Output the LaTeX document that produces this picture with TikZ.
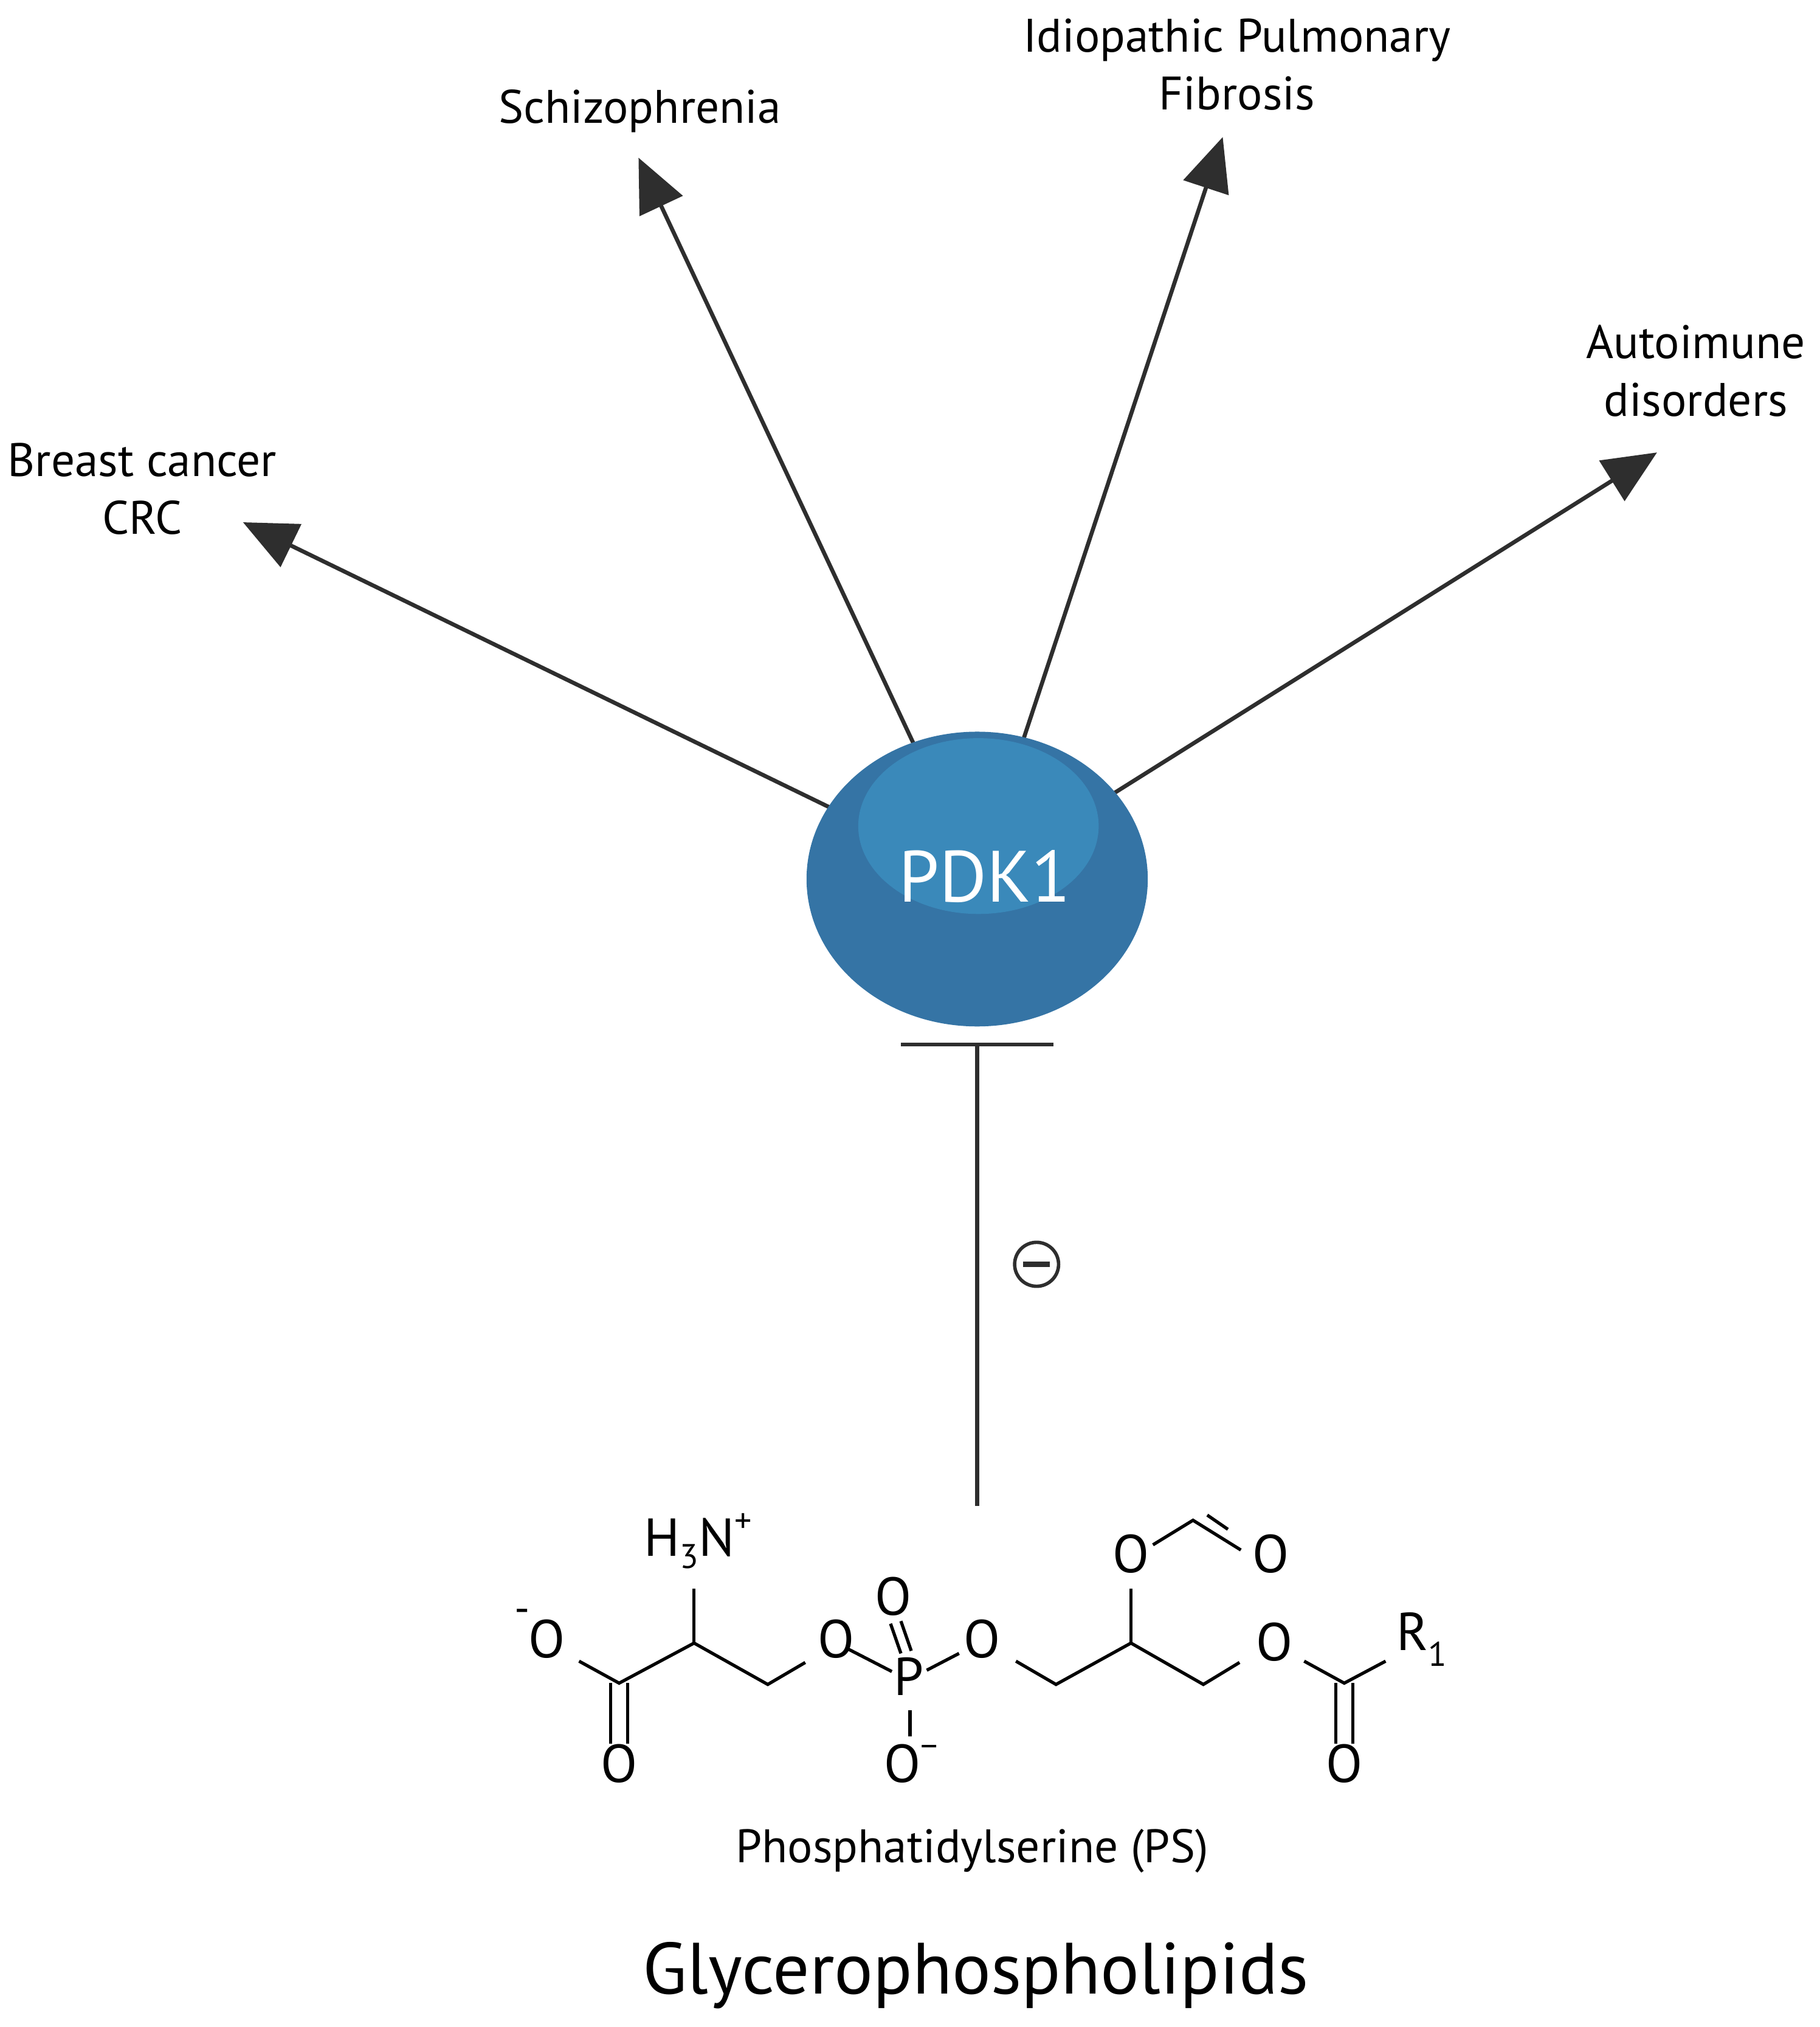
\documentclass[tikz,border=0pt]{standalone}
\usepackage{fontspec}
\setmainfont{PT Sans}
\usetikzlibrary{arrows.meta,shapes.geometric,backgrounds}
\definecolor{outerblue}{HTML}{3574A5}
\definecolor{innerblue}{HTML}{3A89BA}
\definecolor{ln}{HTML}{2E2E2E}
\tikzset{
  conn/.style={draw=ln,line width=1.9pt},
  arr/.style={conn,-{Triangle[length=25pt,width=22pt]}},
  lbl/.style={font=\fontsize{22}{27}\selectfont,align=center,text=black,inner sep=0pt},
  atom/.style={font=\fontsize{25}{27}\selectfont,inner sep=0pt},
  bond/.style={draw=black,line width=1.5pt},
}
\begin{document}
\begin{tikzpicture}[x=0.2127mm,y=-0.2127mm]
\useasboundingbox (0,0) rectangle (1408,1568);
% PDK1
\node[ellipse,fill=outerblue,minimum width=264*0.2127mm,minimum height=228*0.2127mm,inner sep=0pt] (pdk) at (756,680) {};
\fill[innerblue] (757,639) ellipse [x radius=93, y radius=68];
\node[text=white,font=\fontsize{34}{36}\selectfont,inner sep=0pt] (pdkt) at (762,678) {PDK1};
% labels and tips
\node[lbl] (bc) at (110,378) {Breast cancer\\CRC};
\node[lbl] (sz) at (495,86) {Schizophrenia};
\node[lbl] (ipf) at (957,50) {Idiopathic Pulmonary\\Fibrosis};
\node[lbl] (ai) at (1312,287) {Autoimune\\disorders};
\coordinate (tbc) at (188,404);
\coordinate (tsz) at (494,122);
\coordinate (tipf) at (946,106);
\coordinate (tai) at (1282,350);
\begin{scope}[on background layer]
\draw[arr] (pdk.center) -- (tbc);
\draw[arr] (pdk.center) -- (tsz);
\draw[arr] (pdk.center) -- (tipf);
\draw[arr] (pdk.center) -- (tai);
\end{scope}
% inhibition
\coordinate (barL) at (697,808);
\coordinate (barR) at (815,808);
\coordinate (barM) at (756,808);
\coordinate (inhEnd) at (756,1165);
\draw[conn] (barL) -- (barR);
\draw[conn] (barM) -- (inhEnd);
\node[draw=ln,line width=1.6pt,circle,minimum size=34*0.2127mm,inner sep=0pt] (minus) at (802,978) {};
\draw[ln,line width=2.8pt] ([xshift=-2.2mm]minus.center) -- ([xshift=2.2mm]minus.center);
% molecule
\node[atom] (o1) at (423,1268) {O};
\node[atom] (o1m) at (404,1250) {\fontsize{20}{20}\selectfont -};
\node[atom] (o2) at (479,1364) {O};
\node[atom] (nh) at (540,1192) {H\raisebox{-0.45ex}{\fontsize{16}{16}\selectfont 3}N\raisebox{0.9ex}{\fontsize{16}{16}\selectfont +}};
\node[atom] (o3) at (647,1268) {O};
\node[atom] (p) at (703,1297) {P};
\node[atom] (o4) at (691,1235) {O};
\node[atom] (o5) at (760,1268) {O};
\node[atom] (o6) at (705,1364) {O\raisebox{0.9ex}{\fontsize{16}{16}\selectfont \textminus}};
\node[atom] (o7) at (875,1202) {O};
\node[atom] (o8) at (983,1202) {O};
\node[atom] (o9) at (986,1270) {O};
\node[atom] (r1) at (1100,1268) {R\raisebox{-0.6ex}{\fontsize{16}{16}\selectfont 1}};
\node[atom] (o10) at (1040,1364) {O};
\coordinate (b1) at (448,1285); \coordinate (c1) at (479,1302);
\coordinate (ca) at (537,1271); \coordinate (cn) at (537,1229);
\coordinate (c2) at (594,1303); \coordinate (b2) at (623,1286);
\coordinate (b3) at (655,1275); \coordinate (b4) at (690,1293);
\coordinate (b5) at (717,1292); \coordinate (b6) at (742,1279);
\coordinate (b7) at (704,1323); \coordinate (b8) at (704,1343);
\coordinate (b9) at (786,1285); \coordinate (c3) at (817,1303);
\coordinate (c4) at (875,1271); \coordinate (c5) at (931,1303);
\coordinate (b10) at (959,1286); \coordinate (b11) at (875,1229);
\coordinate (b12) at (892,1195); \coordinate (c6) at (923,1176);
\coordinate (b13) at (960,1199);
\coordinate (b14) at (1009,1285); \coordinate (c7) at (1040,1302);
\coordinate (b15) at (1072,1285);
\draw[bond] (b1) -- (c1) -- (ca) -- (c2) -- (b2);
\draw[bond] (ca) -- (cn);
\draw[bond] ([xshift=-4]c1) -- ++(0,47);
\draw[bond] ([xshift=4]c1) -- ++(0,47);
\draw[bond] (b3) -- (b4);
\draw[bond] (b5) -- (b6);
\draw[bond] (b7) -- (b8);
\draw[bond] (689,1256) -- (697,1279);
\draw[bond] (697,1254) -- (705,1277);
\draw[bond] (b9) -- (c3) -- (c4) -- (c5) -- (b10);
\draw[bond] (c4) -- (b11);
\draw[bond] (b12) -- (c6) -- (b13);
\draw[bond] (934,1172) -- (950,1183);
\draw[bond] (b14) -- (c7) -- (b15);
\draw[bond] ([xshift=-4]c7) -- ++(0,47);
\draw[bond] ([xshift=4]c7) -- ++(0,47);
\node[lbl] (ps) at (752,1432) {Phosphatidylserine (PS)};
\node[lbl,font=\fontsize{34}{37}\selectfont] (gp) at (755,1528) {Glycerophospholipids};
\end{tikzpicture}
\end{document}
